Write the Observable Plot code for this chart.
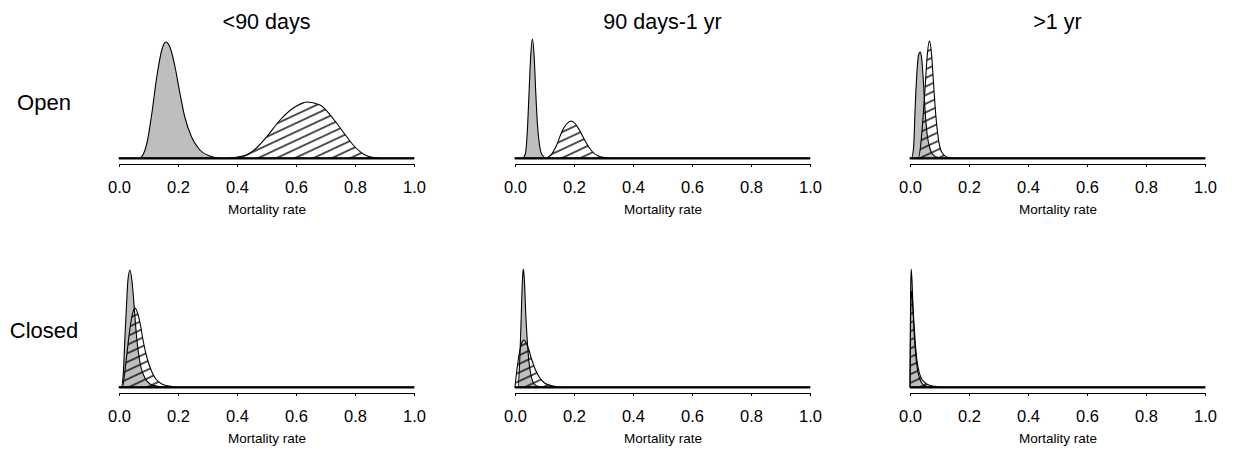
<!DOCTYPE html>
<html>
<head>
<meta charset="utf-8">
<script src="https://cdn.jsdelivr.net/npm/d3@7"></script>
<script src="https://cdn.jsdelivr.net/npm/@observablehq/plot@0.6"></script>
<style>
html, body { margin: 0; padding: 0; background: #fff; }
#root { position: relative; width: 1236px; height: 456px; font-family: "Liberation Sans", Arial, Helvetica, sans-serif; color: #000; overflow: hidden; background: #fff; }
.lbl { position: absolute; white-space: nowrap; transform: translate(-50%, -50%); line-height: 1; }
.panel { position: absolute; }
</style>
</head>
<body>
<svg width="0" height="0" style="position:absolute">
  <defs>
    <pattern id="hatch" patternUnits="userSpaceOnUse" width="12" height="7.8" patternTransform="rotate(-25)">
      <line x1="-1" y1="3.9" x2="13" y2="3.9" stroke="#000" stroke-width="1.35"></line>
    </pattern>
  </defs>
</svg>
<div id="root"></div>
<script>
// ---- data (mortality rate, relative density) ----
const ticks = [0, 0.2, 0.4, 0.6, 0.8, 1.0];
const periods = ["<90 days", "90 days-1 yr", ">1 yr"];
const groups = ["Open", "Closed"];
const xLabel = "Mortality rate";

const openLt90Grey = [[0,0],[0.07,0],[0.094,1.4],[0.111,4.4],[0.128,8.1],[0.145,10.8],[0.159,11.6],[0.175,10.9],[0.19,9.1],[0.207,6.4],[0.223,4.1],[0.246,2.1],[0.274,0.8],[0.308,0.2],[0.342,0],[1,0]];
const openLt90Hatch = [[0,0],[0.365,0],[0.42,0.2],[0.466,1.0],[0.50,2.1],[0.546,3.8],[0.591,5.0],[0.636,5.6],[0.681,5.3],[0.727,3.9],[0.76,2.6],[0.794,1.3],[0.828,0.4],[0.862,0.05],[0.89,0],[1,0]];

const open90d1yGrey = [[0,0],[0.025,0],[0.035,0.4],[0.042,2.8],[0.048,6.8],[0.053,10.1],[0.059,11.9],[0.065,10.1],[0.070,6.8],[0.076,3.4],[0.083,1.3],[0.092,0.3],[0.105,0],[1,0]];
const open90d1yHatch = [[0,0],[0.105,0],[0.12,0.25],[0.14,1.2],[0.16,2.7],[0.175,3.4],[0.19,3.7],[0.205,3.4],[0.22,2.7],[0.24,1.6],[0.26,0.7],[0.28,0.23],[0.31,0.03],[0.33,0],[1,0]];

const openGt1yGrey = [[0,0],[0.005,0],[0.012,1.0],[0.018,5.4],[0.024,8.8],[0.029,10.3],[0.034,10.6],[0.039,10.1],[0.045,7.8],[0.051,4.8],[0.058,2.4],[0.066,1.1],[0.076,0.4],[0.09,0.1],[0.11,0],[1,0]];
const openGt1yHatch = [[0,0],[0.028,0],[0.038,1.8],[0.045,4.4],[0.052,7.4],[0.058,10.1],[0.066,11.7],[0.073,10.4],[0.079,7.8],[0.086,4.8],[0.094,2.4],[0.103,0.9],[0.115,0.3],[0.13,0.05],[0.15,0],[1,0]];

const closedLt90Grey = [[0,0],[0.008,0],[0.015,1.6],[0.02,4.9],[0.025,7.9],[0.03,10.6],[0.037,11.7],[0.044,10.6],[0.05,8.6],[0.057,5.9],[0.065,3.6],[0.075,1.9],[0.088,0.9],[0.105,0.3],[0.13,0.08],[0.16,0],[1,0]];
const closedLt90Hatch = [[0,0],[0.012,0],[0.02,1.6],[0.028,3.6],[0.036,5.6],[0.044,7.1],[0.054,7.9],[0.063,7.4],[0.072,6.3],[0.082,4.6],[0.095,2.9],[0.11,1.6],[0.125,0.8],[0.145,0.3],[0.17,0.1],[0.2,0],[1,0]];

const closed90d1yGrey = [[0,0],[0.01,0],[0.016,2.6],[0.021,6.9],[0.025,10.6],[0.028,11.8],[0.032,10.6],[0.036,7.6],[0.041,4.9],[0.047,2.6],[0.055,1.1],[0.065,0.3],[0.08,0.05],[0.095,0],[1,0]];
const closed90d1yHatch = [[0,0],[0.006,1.6],[0.012,2.9],[0.018,3.9],[0.024,4.5],[0.031,4.7],[0.038,4.4],[0.046,3.8],[0.056,2.8],[0.068,1.8],[0.082,1.0],[0.1,0.4],[0.125,0.13],[0.16,0],[1,0]];

const closedGt1yGrey = [[0,0],[0.002,9.0],[0.004,11.8],[0.007,10.5],[0.01,8.0],[0.014,5.5],[0.019,3.3],[0.025,1.8],[0.032,0.9],[0.04,0.4],[0.05,0.15],[0.065,0.03],[0.08,0],[1,0]];
const closedGt1yHatch = [[0,0],[0.002,7.0],[0.005,9.6],[0.008,8.8],[0.012,7.0],[0.017,4.8],[0.023,2.8],[0.03,1.6],[0.038,0.9],[0.048,0.5],[0.06,0.25],[0.075,0.1],[0.095,0.03],[0.12,0],[1,0]];

// ---- layout ----
const panels = [
  {row: 0, col: 0, grey: openLt90Grey, hatch: openLt90Hatch},
  {row: 0, col: 1, grey: open90d1yGrey, hatch: open90d1yHatch},
  {row: 0, col: 2, grey: openGt1yGrey, hatch: openGt1yHatch},
  {row: 1, col: 0, grey: closedLt90Grey, hatch: closedLt90Hatch},
  {row: 1, col: 1, grey: closed90d1yGrey, hatch: closed90d1yHatch},
  {row: 1, col: 2, grey: closedGt1yGrey, hatch: closedGt1yHatch}
];
const colX0 = [119, 515, 910];
const plotW = 295;
const axisY = [163, 392];
const mL = 20, mR = 20, mT = 10, mB = 60, inset = 5, plotH = 118;
const svgH = mT + plotH + inset + mB;
const yMax = 11.8;

const root = document.getElementById("root");

for (const p of panels) {
  const chart = Plot.plot({
    width: plotW + mL + mR,
    height: svgH,
    marginLeft: mL, marginRight: mR, marginTop: mT, marginBottom: mB,
    insetBottom: inset,
    x: {domain: [0, 1], label: null},
    y: {domain: [0, yMax], axis: null},
    style: {fontFamily: '"Liberation Sans", Arial, sans-serif', color: "#000", background: "transparent", overflow: "visible"},
    marks: [
      Plot.areaY(p.grey, {x: d => d[0], y: d => d[1], fill: "#bebebe", stroke: "#000", strokeWidth: 1.1, curve: "monotone-x"}),
      Plot.areaY(p.hatch, {x: d => d[0], y: d => d[1], fill: "url(#hatch)", stroke: "#000", strokeWidth: 1.1, curve: "monotone-x"}),
      Plot.ruleY([0], {stroke: "#000", strokeWidth: 2}),
      Plot.ruleY([0], {dy: inset + 1, stroke: "#000", strokeWidth: 1}),
      Plot.axisX({ticks: ticks, tickFormat: d3.format(".1f"), tickSize: 3, tickPadding: 14, fontSize: 16.5, label: null, dy: 1}),
      Plot.text([xLabel], {frameAnchor: "bottom", dy: 50, fontSize: 13.5, fill: "#000"})
    ]
  });
  chart.classList.add("panel");
  chart.style.left = (colX0[p.col] - mL) + "px";
  chart.style.top = (axisY[p.row] - mT - plotH - inset) + "px";
  root.appendChild(chart);
}

// column titles
periods.forEach((t, i) => {
  const d = document.createElement("div");
  d.className = "lbl";
  d.textContent = t;
  d.style.left = (colX0[i] + plotW / 2) + "px";
  d.style.top = "23px";
  d.style.fontSize = "21.5px";
  root.appendChild(d);
});
// row labels
const rowY = [103, 331];
groups.forEach((g, i) => {
  const d = document.createElement("div");
  d.className = "lbl";
  d.textContent = g;
  d.style.left = "44px";
  d.style.top = rowY[i] + "px";
  d.style.fontSize = "22px";
  root.appendChild(d);
});
</script>
</body>
</html>
